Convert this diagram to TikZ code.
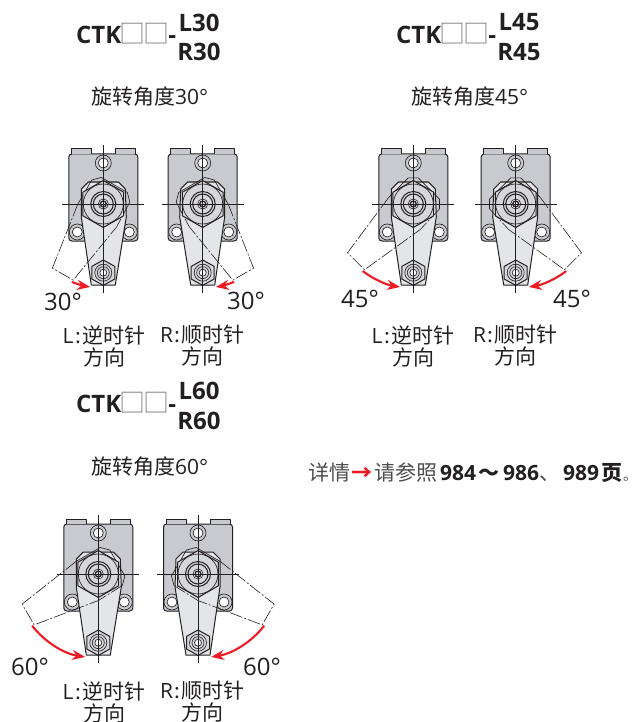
\documentclass[tikz,border=0pt]{standalone}
\usepackage{fontspec}
\setmainfont{Open Sans}
\newfontfamily\cjk{Noto Sans CJK SC}
\usetikzlibrary{arrows.meta}
\definecolor{ink}{HTML}{231F20}
\definecolor{bodygray}{HTML}{C8CAD0}
\definecolor{armgray}{HTML}{E4E5E8}
\definecolor{nutgray}{HTML}{D6D7DB}
\definecolor{boxgray}{HTML}{858585}
\definecolor{redmark}{HTML}{ED1C24}

% one clamp: x, y, mirror (1 or -1), angle
\newcommand{\clampview}[4]{
  \begin{scope}[shift={(#1,#2)},xscale=#3]
    \draw[outline,fill=bodygray,rounded corners=3pt] (-34.5,-50) rectangle (34.5,37);
    \draw[outline,fill=bodygray] (-32,-50) -- (-32,-55) -- (-12,-55) -- (-12,-50);
    \draw[outline,fill=bodygray] (32,-50) -- (32,-55) -- (12,-55) -- (12,-50);
    \foreach \hx/\hy in {0/-41,-26/28,26/28} {
      \draw[thinline,fill=bodygray] (\hx,\hy) circle (8);
      \draw[thinline,fill=white] (\hx,\hy) circle (5);
    }
    \draw[outline,fill=armgray] (-12,81) -- (-22,13) -- (-22,-15) -- (-15,-22) -- (15,-22) -- (22,-15) -- (23,13) -- (12,81) -- cycle;
    \begin{scope}[rotate=-#4]
      \draw[phantom] (-22,13) -- (-12,81) -- (12,81) -- (23,13);
      \draw[thinline] (-22,13) -- (-22,-15) -- (-15,-22) -- (15,-22) -- (22,-15);
      \draw[phantom] (22,-15) -- (23,13);
    \end{scope}
    \draw[outline,fill=nutgray] (0,-23.5) -- (20.4,-11.8) -- (20.4,11.8) -- (0,23.5) -- (-20.4,11.8) -- (-20.4,-11.8) -- cycle;
    \draw[thinline] (0,0) circle (20);
    \foreach \r in {12.5,10} \draw[outline] (0,0) circle (\r);
    \draw[thinline,fill=white] (0,0) circle (5);
    \draw[outline,line width=1.3pt,fill=armgray] (0,0) circle (3);
    \draw[outline,fill=nutgray] (0,56) -- (11.5,62.4) -- (11.5,75) -- (0,81.4) -- (-11.5,75) -- (-11.5,62.4) -- cycle;
    \foreach \r in {8.5,6} \draw[thinline] (0,68.7) circle (\r);
    \draw[thinline,fill=white] (0,68.7) circle (3.5);
    \draw[thinline] (-41,0) -- (41,0);
    \draw[thinline] (0,-59) -- (0,89);
    \draw[redarrow] ({-84*sin(#4-8)},{84*cos(#4-8)}) arc[start angle=270-#4+8,end angle=261,radius=84pt];
  \end{scope}
}
\newcommand{\modelname}{CTK{\cjk\mdseries\color{boxgray}\fontsize{26}{26}\selectfont\kern-1.5pt □\kern-2pt □\kern-1.5pt}-}
\newcommand{\leftdir}{L\hspace{1.5pt}{\cjk :}\hspace{1.5pt}{\cjk 逆时针}\\{\cjk 方向}}
\newcommand{\rightdir}{R\hspace{1.5pt}{\cjk :}\hspace{1.5pt}{\cjk 顺时针}\\{\cjk 方向}}

\begin{document}
\begin{tikzpicture}[x=1pt,y=-1pt,
    outline/.style={draw=ink,line width=1pt,line join=round},
    thinline/.style={draw=ink,line width=0.65pt},
    phantom/.style={draw=ink,line width=0.6pt,dash pattern=on 13pt off 2pt on 2pt off 2pt},
    redarrow/.style={draw=redmark,line width=2.1pt,-{Stealth[length=13pt,width=10pt]}},
    modelbase/.style={anchor=base west,inner sep=0pt,text=ink,font=\fontsize{24}{24}\selectfont\bfseries},
    modelend/.style={text=ink,font=\fontsize{24}{24}\selectfont\bfseries},
    caption/.style={anchor=base west,inner sep=0pt,text=ink,font=\fontsize{21}{22}\selectfont},
    degree/.style={anchor=base west,inner sep=0pt,text=ink,font=\fontsize{24}{24}\selectfont},
    dirlabel/.style={align=center,text=ink,inner sep=0pt,font=\fontsize{21}{22}\selectfont}]
  \useasboundingbox (0,0) rectangle (638,722);

  \clampview{103.3}{204}{1}{30}
  \clampview{202.7}{204}{-1}{30}
  \clampview{413.3}{204}{1}{45}
  \clampview{515.7}{204}{-1}{45}
  \clampview{98.3}{574}{1}{60}
  \clampview{198}{574}{-1}{60}

  \node[modelbase] (titleA) at (76,43.5) {\modelname};
  \node[modelend] (titleAL) at (199,22.5) {L30};
  \node[modelend] (titleAR) at (199,52) {R30};
  \node[modelbase] (titleB) at (396,43.5) {\modelname};
  \node[modelend] (titleBL) at (519,22.5) {L45};
  \node[modelend] (titleBR) at (519,52) {R45};
  \node[modelbase] (titleC) at (76,412) {\modelname};
  \node[modelend] (titleCL) at (199,391) {L60};
  \node[modelend] (titleCR) at (199,420.5) {R60};

  \node[caption] (angleA) at (91,105) {{\cjk 旋转角度}30°};
  \node[caption] (angleB) at (411,105) {{\cjk 旋转角度}45°};
  \node[caption] (angleC) at (91,474) {{\cjk 旋转角度}60°};

  \node[degree] (degAL) at (44,310) {30°};
  \node[degree] (degAR) at (227,309) {30°};
  \node[degree] (degBL) at (341,307) {45°};
  \node[degree] (degBR) at (553,307) {45°};
  \node[degree] (degCL) at (11,675) {60°};
  \node[degree] (degCR) at (243,675) {60°};

  \node[dirlabel] (dirAL) at (104,346) {\leftdir};
  \node[dirlabel] (dirAR) at (202.5,346) {\rightdir};
  \node[dirlabel] (dirBL) at (413,346) {\leftdir};
  \node[dirlabel] (dirBR) at (515.5,346) {\rightdir};
  \node[dirlabel] (dirCL) at (104,702) {\leftdir};
  \node[dirlabel] (dirCR) at (202.5,702) {\rightdir};

  \node[caption] (seealso) at (308,480) {{\cjk\color{ink!80}详情\hspace{1.5pt}{\bfseries\color{redmark}→}\hspace{1.5pt}请参照}\hspace{3pt}\textbf{984\hspace{2.5pt}{\cjk ～}\hspace{3.5pt}986}{\cjk\color{ink!80}、}\hspace{3pt}\textbf{989\hspace{2pt}{\cjk 页}}\hspace{1pt}{\cjk\color{ink!80}\fontsize{14}{14}\selectfont 。}};
\end{tikzpicture}
\end{document}
